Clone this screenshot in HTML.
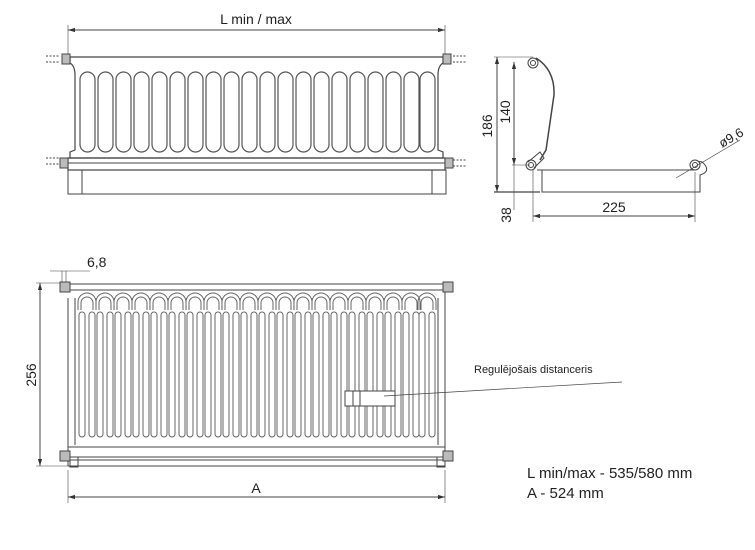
<!DOCTYPE html>
<html><head><meta charset="utf-8"><style>
html,body{margin:0;padding:0;background:#fff;}
svg{display:block;}
text{font-family:"Liberation Sans",sans-serif;fill:#222;}
</style></head><body>
<svg width="755" height="550" viewBox="0 0 755 550" xmlns="http://www.w3.org/2000/svg">
<defs>
<marker id="ar" viewBox="0 0 10 10" refX="10" refY="5" markerWidth="7" markerHeight="7" orient="auto-start-reverse"><path d="M0,2 L10,5 L0,8 z" fill="#333"/></marker>
<g id="tl"><rect x="0" y="72" width="15" height="80" rx="7.5" fill="none" stroke="#555" stroke-width="1.2"/></g>
<g id="fl" fill="none" stroke="#666" stroke-width="1">
<path d="M0,310 L0,302 A9,9 0 0 1 18,302 L18,310"/>
<path d="M3,310 L3,303 A6,6 0 0 1 15,303 L15,310"/>
<rect x="1" y="312" width="6" height="125" rx="3"/>
<rect x="11" y="312" width="6" height="125" rx="3"/>
</g>
</defs>
<g stroke="#444" fill="none" stroke-width="1">
<line x1="68" y1="30" x2="445" y2="30" marker-start="url(#ar)" marker-end="url(#ar)"/>
<line x1="68" y1="25" x2="68" y2="56" stroke-width="0.6"/>
<line x1="445" y1="25" x2="445" y2="56" stroke-width="0.6"/>
<path d="M70,57 L443,57 L443,63 Q438,66 438,75 L438,150 L443,152 L443,158 L70,158 L70,152 L75,150 L75,75 Q75,66 70,63 Z" stroke-width="1.2"/>
<rect x="68" y="158" width="377" height="12" stroke-width="1.2"/>
<line x1="68" y1="163" x2="445" y2="163"/>
<rect x="82" y="170" width="350" height="24"/>
<rect x="68" y="170" width="14" height="24"/>
<rect x="432" y="170" width="14" height="24"/>
<rect x="62" y="54" width="8" height="10" fill="#bbb"/><rect x="443" y="54" width="8" height="10" fill="#bbb"/>
<rect x="60" y="158" width="8" height="10" fill="#bbb"/><rect x="445" y="158" width="8" height="10" fill="#bbb"/>
<path d="M46,56 h14 M46,62 h14 M46,158 h14 M46,164 h14 M453,56 h14 M453,62 h14 M453,160 h14 M453,166 h14" stroke-dasharray="2,1.5"/>
</g>
<g>
<use href="#tl" x="80"/><use href="#tl" x="98"/><use href="#tl" x="116"/><use href="#tl" x="134"/><use href="#tl" x="152"/>
<use href="#tl" x="170"/><use href="#tl" x="188"/><use href="#tl" x="206"/><use href="#tl" x="224"/><use href="#tl" x="242"/>
<use href="#tl" x="260"/><use href="#tl" x="278"/><use href="#tl" x="296"/><use href="#tl" x="314"/><use href="#tl" x="332"/>
<use href="#tl" x="350"/><use href="#tl" x="368"/><use href="#tl" x="386"/><use href="#tl" x="404"/><use href="#tl" x="420"/>
</g>
<text x="256" y="24" font-size="14" text-anchor="middle">L min / max</text>

<g stroke="#444" fill="none" stroke-width="1">
<line x1="494" y1="57" x2="533" y2="57" stroke-width="0.6"/>
<line x1="497" y1="57" x2="497" y2="192" marker-start="url(#ar)" marker-end="url(#ar)"/>
<line x1="514" y1="62" x2="514" y2="165" marker-start="url(#ar)" marker-end="url(#ar)"/>
<line x1="514" y1="165" x2="514" y2="210" stroke-width="0.6"/>
<line x1="494" y1="192" x2="540" y2="192" stroke-width="1.3"/>
<line x1="512" y1="165" x2="530" y2="165" stroke-width="0.6"/>
<circle cx="533" cy="63" r="5"/><circle cx="533" cy="63" r="2.5"/>
<circle cx="531" cy="165" r="5"/><circle cx="531" cy="165" r="2.5"/>
<path d="M536,58 Q555,70 554,95 L546,150 L540,160" stroke-width="1.5"/>
<path d="M528,162 L540,152 L544,158 L534,168"/>
<path d="M537,170 L542,170 L542,192 L700,192 L700,175 Q710,172 705,165 Q700,158 695,165 L695,170 L537,170 Z"/>
<circle cx="695" cy="165" r="5" fill="#fff"/><circle cx="695" cy="165" r="2.5"/>
<line x1="676" y1="178" x2="740" y2="140" stroke-width="0.7"/>
<line x1="533" y1="170" x2="533" y2="222" stroke-width="0.6"/>
<line x1="695" y1="172" x2="695" y2="222" stroke-width="0.6"/>
<line x1="533" y1="216" x2="695" y2="216" marker-start="url(#ar)" marker-end="url(#ar)"/>
</g>
<text x="614" y="212" font-size="14" text-anchor="middle">225</text>
<text transform="translate(492,126) rotate(-90)" font-size="14" text-anchor="middle">186</text>
<text transform="translate(510,112) rotate(-90)" font-size="14" text-anchor="middle">140</text>
<text transform="translate(511,215) rotate(-90)" font-size="14" text-anchor="middle">38</text>
<text transform="translate(722,148) rotate(-30)" font-size="13">ø9,6</text>

<g stroke="#444" fill="none" stroke-width="1">
<line x1="36" y1="283" x2="64" y2="283" stroke-width="0.6"/>
<line x1="36" y1="466" x2="68" y2="466" stroke-width="0.6"/>
<line x1="40" y1="283" x2="40" y2="466" marker-start="url(#ar)" marker-end="url(#ar)"/>
<line x1="50" y1="271" x2="90" y2="271" stroke-width="0.6"/>
<line x1="62" y1="271" x2="62" y2="290" stroke-width="0.6"/>
<line x1="66" y1="271" x2="66" y2="290" stroke-width="0.6"/>
<rect x="68" y="284" width="377" height="6"/>
<line x1="68" y1="298" x2="68" y2="466"/>
<line x1="75" y1="298" x2="75" y2="445"/>
<line x1="438" y1="298" x2="438" y2="445"/>
<line x1="445" y1="290" x2="445" y2="466"/>
<rect x="68" y="447" width="377" height="10"/>
<line x1="68" y1="460" x2="445" y2="460"/>
<line x1="68" y1="466" x2="445" y2="466"/>
<rect x="70" y="457" width="8" height="10"/><rect x="437" y="457" width="8" height="10"/>
<rect x="60" y="282" width="10" height="10" fill="#bbb"/><rect x="443" y="282" width="10" height="10" fill="#bbb"/>
<rect x="60" y="451" width="10" height="10" fill="#bbb"/><rect x="443" y="451" width="10" height="10" fill="#bbb"/>
<line x1="68" y1="470" x2="68" y2="503" stroke-width="0.6"/>
<line x1="445" y1="470" x2="445" y2="503" stroke-width="0.6"/>
<line x1="68" y1="497" x2="445" y2="497" marker-start="url(#ar)" marker-end="url(#ar)"/>
</g>
<g>
<use href="#fl" x="78"/><use href="#fl" x="96"/><use href="#fl" x="114"/><use href="#fl" x="132"/><use href="#fl" x="150"/>
<use href="#fl" x="168"/><use href="#fl" x="186"/><use href="#fl" x="204"/><use href="#fl" x="222"/><use href="#fl" x="240"/>
<use href="#fl" x="258"/><use href="#fl" x="276"/><use href="#fl" x="294"/><use href="#fl" x="312"/><use href="#fl" x="330"/>
<use href="#fl" x="348"/><use href="#fl" x="366"/><use href="#fl" x="384"/><use href="#fl" x="402"/><use href="#fl" x="418"/>
</g>
<g stroke="#444" stroke-width="1">
<rect x="345" y="391" width="50" height="15" fill="#fff"/>
<line x1="353" y1="391" x2="353" y2="406"/><line x1="360" y1="391" x2="360" y2="406"/>
<line x1="384" y1="396" x2="622" y2="382" stroke-width="0.7" fill="none"/>
</g>
<text x="474" y="373" font-size="11">Regulējošais distanceris</text>
<text transform="translate(36,375) rotate(-90)" font-size="14" text-anchor="middle">256</text>
<text x="87" y="267" font-size="14">6,8</text>
<text x="256" y="493" font-size="14" text-anchor="middle">A</text>
<text x="527" y="478" font-size="15">L min/max - 535/580 mm</text>
<text x="527" y="498" font-size="15">A - 524 mm</text>
</svg>
</body></html>
